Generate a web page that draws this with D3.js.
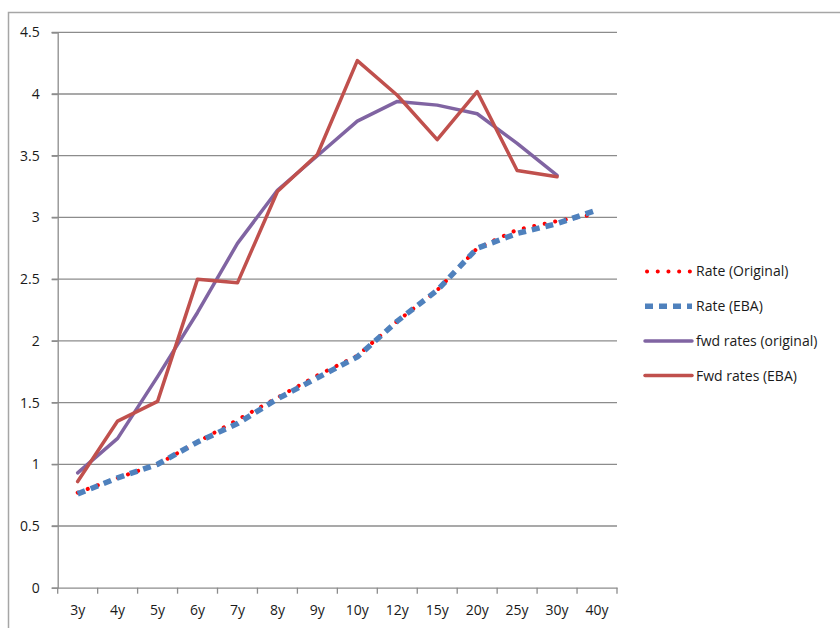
<!DOCTYPE html>
<html>
<head>
<meta charset="utf-8">
<script src="https://cdn.jsdelivr.net/npm/d3@7"></script>
<style>
  body { margin: 0; background: #fff; }
  svg { display: block; font-family: "Open Sans", Lato, sans-serif; }
</style>
</head>
<body>
<svg id="chart" width="840" height="628"></svg>
<script>
// categories along the x axis
var categories = ['3y', '4y', '5y', '6y', '7y', '8y', '9y', '10y', '12y', '15y', '20y', '25y', '30y', '40y'];

// series values (null = no point)
var rateOriginal = [0.77, 0.89, 1.00, 1.18, 1.36, 1.54, 1.72, 1.88, 2.16, 2.41, 2.75, 2.90, 2.97, 3.03];
var rateEBA      = [0.76, 0.89, 1.00, 1.18, 1.33, 1.53, 1.70, 1.87, 2.16, 2.41, 2.75, 2.87, 2.95, 3.06];
var fwdOriginal  = [0.93, 1.21, 1.71, 2.23, 2.79, 3.22, 3.50, 3.78, 3.94, 3.91, 3.84, 3.60, 3.34, null];
var fwdEBA       = [0.86, 1.35, 1.51, 2.50, 2.47, 3.21, 3.51, 4.27, 3.99, 3.63, 4.02, 3.38, 3.33, null];

var yTicks = [0, 0.5, 1, 1.5, 2, 2.5, 3, 3.5, 4, 4.5];

var svg = d3.select('#chart');
var fontSize = 14;

// outer chart border (runs off the right and bottom edges)
svg.append('rect')
  .attr('x', 8.5).attr('y', 12.5)
  .attr('width', 900).attr('height', 700)
  .attr('fill', 'none')
  .attr('stroke', '#a6a6a6')
  .attr('stroke-width', 1.5);

var plotLeft = 57.7, plotRight = 617, plotTop = 32.3, plotBottom = 587.7;

var x = d3.scaleBand().domain(categories).range([plotLeft, plotRight]).padding(0);
var y = d3.scaleLinear().domain([0, 4.5]).range([plotBottom, plotTop]);

// horizontal gridlines
svg.append('g')
  .selectAll('line')
  .data(yTicks.filter(function(d) { return d > 0; }))
  .enter().append('line')
  .attr('x1', plotLeft - 6).attr('x2', plotRight)
  .attr('y1', function(d) { return y(d); })
  .attr('y2', function(d) { return y(d); })
  .attr('stroke', '#8c8c8c')
  .attr('stroke-width', 1.3);

// y axis
var yAxis = svg.append('g')
  .attr('transform', 'translate(' + plotLeft + ',0)')
  .call(d3.axisLeft(y).tickValues(yTicks).tickSize(6).tickPadding(12)
    .tickFormat(function(d) { return String(d); }));

// x axis, ticks between categories
var xAxis = svg.append('g')
  .attr('transform', 'translate(0,' + plotBottom + ')')
  .call(d3.axisBottom(x).tickSize(0).tickPadding(17));

xAxis.selectAll('.tick-sep')
  .data(categories.concat(['end']))
  .enter().append('line')
  .attr('class', 'tick-sep')
  .attr('x1', function(d, i) { return plotLeft + i * x.bandwidth(); })
  .attr('x2', function(d, i) { return plotLeft + i * x.bandwidth(); })
  .attr('y1', 0).attr('y2', 6)
  .attr('stroke', '#8c8c8c')
  .attr('stroke-width', 1.3);

[xAxis, yAxis].forEach(function(g) {
  g.select('.domain').attr('stroke', '#8c8c8c').attr('stroke-width', 1.3);
  g.selectAll('.tick line').attr('stroke', '#8c8c8c').attr('stroke-width', 1.3);
  g.selectAll('text').attr('font-size', fontSize).attr('fill', '#1a1a1a')
    .style('font-family', '"Open Sans", Lato, sans-serif');
});

function cx(d, i) { return x(categories[i]) + x.bandwidth() / 2; }

var line = d3.line()
  .defined(function(d) { return d != null; })
  .x(cx)
  .y(function(d) { return y(d); });

var series = [
  { name: 'Rate (Original)', values: rateOriginal, color: '#ff0000', width: 4, dash: '0.1 10.6', cap: 'round' },
  { name: 'Rate (EBA)', values: rateEBA, color: '#4f81bd', width: 5.5, dash: '8 6', cap: 'butt' },
  { name: 'fwd rates (original)', values: fwdOriginal, color: '#8064a2', width: 3.5, dash: null, cap: 'round' },
  { name: 'Fwd rates (EBA)', values: fwdEBA, color: '#c0504d', width: 3.5, dash: null, cap: 'round' }
];

svg.append('g')
  .selectAll('path')
  .data(series)
  .enter().append('path')
  .attr('d', function(s) { return line(s.values); })
  .attr('fill', 'none')
  .attr('stroke', function(s) { return s.color; })
  .attr('stroke-width', function(s) { return s.width; })
  .attr('stroke-dasharray', function(s) { return s.dash; })
  .attr('stroke-linecap', function(s) { return s.cap; })
  .attr('stroke-linejoin', 'round');

// legend
var legend = svg.append('g')
  .selectAll('g')
  .data(series)
  .enter().append('g')
  .attr('transform', function(s, i) { return 'translate(645,' + (271.5 + i * 34.7) + ')'; });

legend.append('line')
  .attr('x1', function(s) { return s.cap === 'round' && s.dash ? 2 : 0; })
  .attr('x2', 47)
  .attr('y1', 0).attr('y2', 0)
  .attr('stroke', function(s) { return s.color; })
  .attr('stroke-width', function(s) { return s.width; })
  .attr('stroke-dasharray', function(s) { return s.dash; })
  .attr('stroke-linecap', function(s) { return s.cap; });

legend.append('text')
  .attr('x', 51)
  .attr('y', 0)
  .attr('dy', '0.35em')
  .attr('font-size', fontSize)
  .attr('fill', '#1a1a1a')
  .text(function(s) { return s.name; });
</script>
</body>
</html>
